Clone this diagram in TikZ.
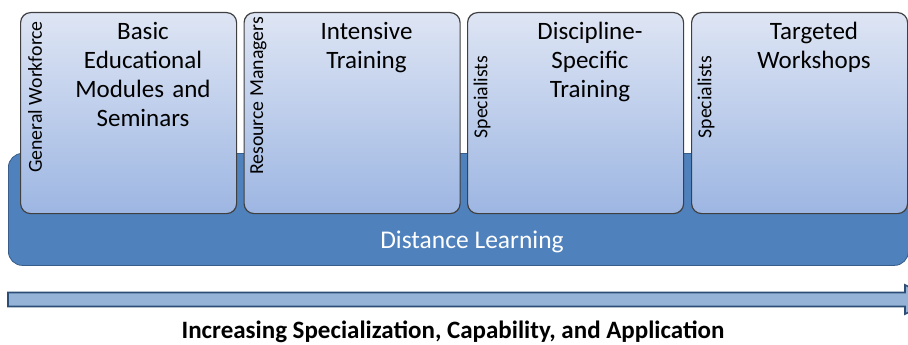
\documentclass[tikz,border=0pt]{standalone}
\usepackage{fontspec}
\setmainfont{Carlito}
\definecolor{boxtop}{RGB}{222,229,244}
\definecolor{boxbot}{RGB}{157,182,226}
\definecolor{basefill}{RGB}{79,129,189}
\definecolor{basedraw}{RGB}{56,93,138}
\definecolor{barfill}{RGB}{149,179,215}
\definecolor{bardraw}{RGB}{44,77,117}
\begin{document}
\begin{tikzpicture}[x=1pt,y=-1pt,
  stage/.style={draw=black!75, line width=1.2pt, rounded corners=10pt,
    top color=boxtop, bottom color=boxbot, minimum width=216pt,
    minimum height=201pt, anchor=north west, inner sep=0pt},
  base/.style={fill=basefill, draw=basedraw, line width=0.8pt, rounded corners=14pt,
    minimum width=900pt, minimum height=112pt, anchor=north west, inner sep=0pt},
  title/.style={font=\fontsize{25}{28.8}\selectfont, text width=205pt, align=center,
    anchor=base, inner sep=0pt},
  who/.style={font=\fontsize{19.8}{23}\selectfont, rotate=90, inner sep=0pt}]
\useasboundingbox (0,0) rectangle (908,345);
\clip (0,0) rectangle (908,345);
% distance learning base
\node[base] (dl) at (8,153) {};
\node[font=\fontsize{25.5}{30}\selectfont, text=white, anchor=base, inner sep=0pt]
  (dltext) at (472,248) {Distance Learning};
% stages
\node[stage] (s1) at (20,12) {};
\node[stage] (s2) at (243.5,12) {};
\node[stage] (s3) at (467,12) {};
\node[stage] (s4) at (691,12) {};
% titles
\node[title] (t1) at (143,40) {Basic\\Educational\\Modules and\\Seminars};
\node[title] (t2) at (366.5,40) {Intensive\\Training};
\node[title] (t3) at (590,40) {Discipline-\\Specific\\Training};
\node[title] (t4) at (814,40) {Targeted\\Workshops};
% audiences
\node[who] (w1) at (35,97) {General Workforce};
\node[who] (w2) at (258.5,96) {Resource Managers};
\node[who] (w3) at (482,97) {Specialists};
\node[who] (w4) at (706,97) {Specialists};
% progression arrow
\draw[fill=barfill, draw=bardraw, line width=1.6pt]
  (8,292.5) -- (905,292.5) -- (905,285) -- (935,299.5) -- (905,314)
  -- (905,306.5) -- (8,306.5) -- cycle;
\node[font=\bfseries\fontsize{25}{30}\selectfont, anchor=base, inner sep=0pt]
  (axis) at (453,338) {Increasing Specialization, Capability, and Application};
\end{tikzpicture}
\end{document}
